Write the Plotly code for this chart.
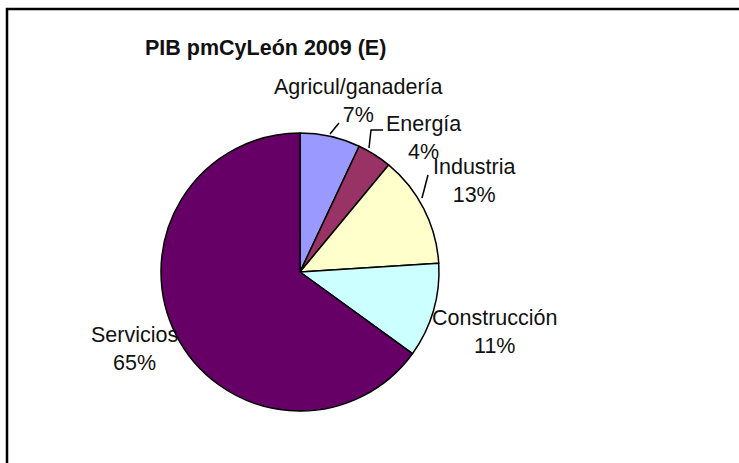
import plotly.graph_objects as go

# Sector shares of GDP, Castilla y León 2009 (estimate)
sectors = ["Agricul/ganadería", "Energía", "Industria", "Construcción", "Servicios"]
shares = [7, 4, 13, 11, 65]
colors = ["#9999FF", "#993366", "#FFFFCC", "#CCFFFF", "#660066"]

W, H = 739, 463
FONT = "Liberation Sans, Arial, sans-serif"

# Pie geometry in pixels
cx, cy, r = 300, 272, 139

fig = go.Figure(go.Pie(
    labels=sectors,
    values=shares,
    marker=dict(colors=colors, line=dict(color="black", width=1.5)),
    sort=False,
    direction="clockwise",
    rotation=0,
    textinfo="none",
    hoverinfo="label+percent",
    showlegend=False,
    domain=dict(x=[(cx - r) / W, (cx + r) / W],
                y=[(H - cy - r) / H, (H - cy + r) / H]),
))

# Data label placement (pixel centres of each label block)
label_pos = {
    "Agricul/ganadería": (358, 101),
    "Energía": (424, 138),
    "Industria": (474, 181),
    "Construcción": (494, 332),
    "Servicios": (134, 349),
}

annotations = []
for name, val in zip(sectors, shares):
    px, py = label_pos[name]
    annotations.append(dict(
        text=f"{name}<br>{val}%", x=px / W, y=1 - py / H,
        xref="paper", yref="paper", xanchor="center", yanchor="middle",
        showarrow=False, align="center",
        font=dict(family=FONT, size=21.5, color="#111111"),
    ))

annotations.append(dict(
    text="<b>PIB pmCyLeón 2009 (E)</b>", x=143 / W, y=1 - 48 / H,
    xref="paper", yref="paper", xanchor="left", yanchor="middle",
    showarrow=False, font=dict(family=FONT, size=21.5, color="#111111"),
))


def seg(points):
    path = "M " + " L ".join(f"{x / W:.5f},{1 - y / H:.5f}" for x, y in points)
    return dict(type="path", path=path, xref="paper", yref="paper",
                line=dict(color="black", width=1.5))


shapes = [
    # leader lines
    seg([(330, 134), (339, 123)]),
    seg([(369, 148), (371, 130), (383, 130)]),
    seg([(422, 198), (428, 175)]),
    # chart area frame
    dict(type="rect", xref="paper", yref="paper",
         x0=7 / W, x1=1.02, y0=-0.02, y1=1 - 9 / H,
         line=dict(color="black", width=2.5), fillcolor="rgba(0,0,0,0)"),
]

fig.update_layout(
    width=W, height=H,
    margin=dict(l=0, r=0, t=0, b=0),
    paper_bgcolor="white", plot_bgcolor="white",
    annotations=annotations,
    shapes=shapes,
)

fig.write_html("out.html")
